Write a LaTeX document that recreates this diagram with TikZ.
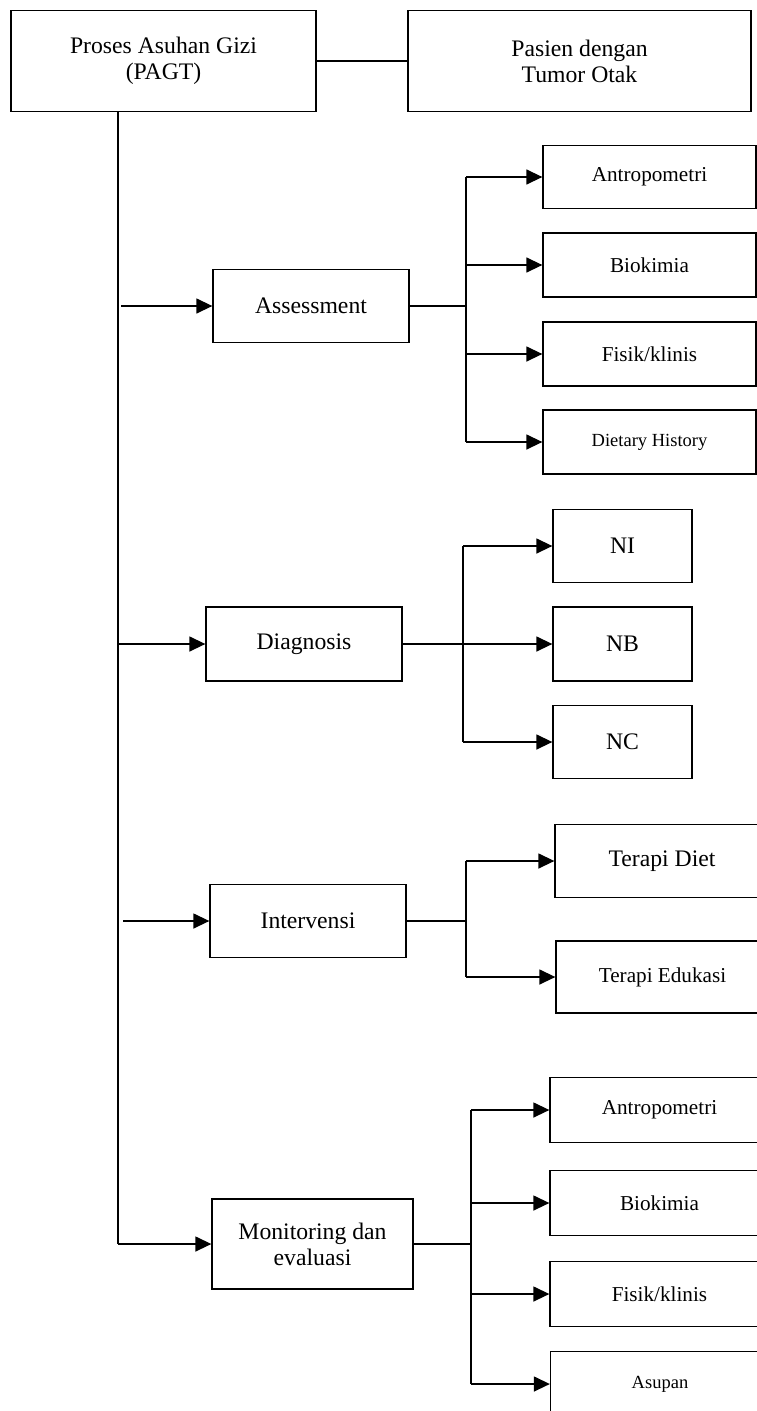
\documentclass[tikz,border=0pt]{standalone}
\usepackage{fontspec}
\setmainfont{Liberation Serif}
\usetikzlibrary{arrows.meta}
\tikzset{
  box/.style={draw, line width=1.3pt, rectangle, inner sep=0pt, align=center, font=\fontsize{23.7}{26}\selectfont},
  smallbox/.style={box, font=\fontsize{21.2}{24}\selectfont},
  tinybox/.style={box, font=\fontsize{18.5}{21}\selectfont},
  conn/.style={line width=1.4pt},
  arr/.style={conn, -{Triangle[length=16pt,width=15pt]}}
}
\begin{document}
\begin{tikzpicture}[x=1pt,y=-1pt]
\clip (0,0) rectangle (757,1411);
\fill[white] (0,0) rectangle (757,1411);
% top boxes
\node[box, minimum width=305pt, minimum height=101pt] (pagt) at (163.5,61) {Proses Asuhan Gizi\\(PAGT)};
\node[box, minimum width=343pt, minimum height=101pt] (pasien) at (579.5,61) {Pasien dengan\\Tumor Otak};
\draw[conn] (pagt) -- (pasien);
% trunk
\coordinate (ttop) at (118,111.5);
\coordinate (tbot) at (118,1244);
% level-1 boxes
\node[box, minimum width=196pt, minimum height=73pt] (ass) at (311,306) {Assessment};
\node[box, minimum width=196pt, minimum height=74pt] (dia) at (304,644) {Diagnosis};
\node[box, minimum width=196pt, minimum height=73pt] (int) at (308,921) {Intervensi};
\node[box, minimum width=201pt, minimum height=90pt] (mon) at (312.5,1244) {Monitoring dan\\evaluasi};
% assessment children
\node[smallbox, minimum width=213pt, minimum height=63pt] (a1) at (649.5,177) {Antropometri};
\node[smallbox, minimum width=213pt, minimum height=64pt] (a2) at (649.5,265) {Biokimia};
\node[smallbox, minimum width=213pt, minimum height=64pt] (a3) at (649.5,354) {Fisik/klinis};
\node[tinybox, minimum width=213pt, minimum height=64pt] (a4) at (649.5,442) {Dietary History};
% diagnosis children
\node[box, minimum width=139pt, minimum height=73pt] (d1) at (622.5,546) {NI};
\node[box, minimum width=139pt, minimum height=74pt] (d2) at (622.5,644) {NB};
\node[box, minimum width=139pt, minimum height=73pt] (d3) at (622.5,742) {NC};
% intervensi children
\node[box, minimum width=214pt, minimum height=73pt] (i1) at (662,861) {Terapi Diet};
\node[smallbox, minimum width=213pt, minimum height=72pt] (i2) at (662.5,977) {Terapi Edukasi};
% monitoring children
\node[smallbox, minimum width=219pt, minimum height=65pt] (m1) at (659.5,1110) {Antropometri};
\node[smallbox, minimum width=219pt, minimum height=65pt] (m2) at (659.5,1203) {Biokimia};
\node[smallbox, minimum width=219pt, minimum height=65pt] (m3) at (659.5,1294) {Fisik/klinis};
\node[tinybox, minimum width=219pt, minimum height=65pt] (m4) at (660,1384) {Asupan};
% trunk and level-1 arrows
\draw[conn] (ttop) -- (tbot);
\draw[arr] (tbot) -- (mon.west);
\coordinate (sa) at (121,306);
\coordinate (sd) at (118,644);
\coordinate (si) at (123,921);
\draw[arr] (sa) -- (ass.west);
\draw[arr] (sd) -- (dia.west);
\draw[arr] (si) -- (int.west);
% junctions
\coordinate (ja) at (466,306);
\coordinate (jd) at (463,644);
\coordinate (ji) at (466,921);
\coordinate (jm) at (471,1244);
\draw[conn] (ass.east) -- (ja);
\draw[conn] (dia.east) -- (jd);
\draw[conn] (int.east) -- (ji);
\draw[conn] (mon.east) -- (jm);
\draw[conn] (ja |- a1.west) -- (ja |- a4.west);
\draw[conn] (jd |- d1.west) -- (jd |- d3.west);
\draw[conn] (ji |- i1.west) -- (ji |- i2.west);
\draw[conn] (jm |- m1.west) -- (jm |- m4.west);
\foreach \b in {a1,a2,a3,a4}{\draw[arr] (ja |- \b.west) -- (\b.west);}
\foreach \b in {d1,d2,d3}{\draw[arr] (jd |- \b.west) -- (\b.west);}
\foreach \b in {i1,i2}{\draw[arr] (ji |- \b.west) -- (\b.west);}
\foreach \b in {m1,m2,m3,m4}{\draw[arr] (jm |- \b.west) -- (\b.west);}
\end{tikzpicture}
\end{document}
